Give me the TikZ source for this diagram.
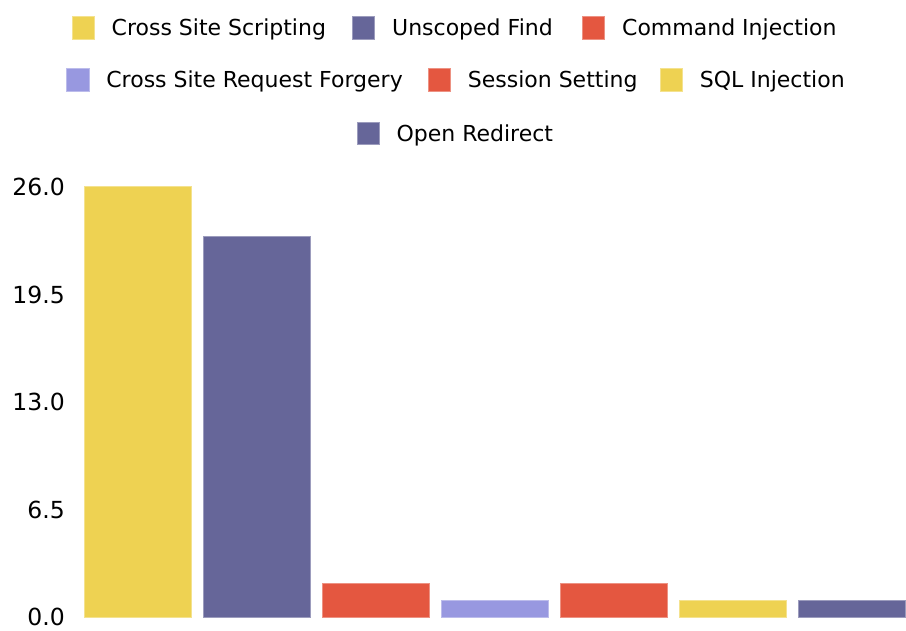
\documentclass[tikz,border=0pt]{standalone}
\usepackage{fontspec}
\setmainfont{DejaVu Sans}
\usetikzlibrary{positioning}

\definecolor{xssyellow}{RGB}{238,210,82}
\definecolor{findpurple}{RGB}{102,102,153}
\definecolor{cmdred}{RGB}{228,87,64}
\definecolor{csrflilac}{RGB}{152,152,224}

\tikzset{
  swatch/.style={draw=#1!65!white, fill=#1, line width=0.8pt,
    minimum width=22.5pt, minimum height=22.5pt, inner sep=0pt},
  legtext/.style={font=\fontsize{22}{26}\selectfont, inner sep=0pt,
    text height=16pt, text depth=0pt},
  ticklabel/.style={font=\fontsize{23.5}{28}\selectfont, inner sep=0pt, anchor=east},
  bar/.style={fill=#1, draw=#1!65!white, line width=1pt}
}

\begin{document}
\begin{tikzpicture}[x=1pt,y=-1pt]

\useasboundingbox (0,0) rectangle (906,631);

\def\Ybase{617}
\def\Xzero{84}
\def\Pitch{119}
\def\Wbar{107}
\def\Unit{16.54}

% legend, row 1
\node[swatch=xssyellow] (swXss) at (83.3,28) {};
\node[legtext, right=16.5pt of swXss] (lbXss) {Cross Site Scripting};
\node[swatch=findpurple] (swFind) at (363.3,28) {};
\node[legtext, right=17pt of swFind] (lbFind) {Unscoped Find};
\node[swatch=cmdred] (swCmd) at (593.3,28) {};
\node[legtext, right=17pt of swCmd] (lbCmd) {Command Injection};

% legend, row 2
\node[swatch=csrflilac] (swCsrf) at (78,80) {};
\node[legtext, right=16.5pt of swCsrf] (lbCsrf) {Cross Site Request Forgery};
\node[swatch=cmdred] (swSess) at (439.5,80) {};
\node[legtext, right=16.5pt of swSess] (lbSess) {Session Setting};
\node[swatch=xssyellow] (swSql) at (671.5,80) {};
\node[legtext, right=16.5pt of swSql] (lbSql) {SQL Injection};

% legend, row 3
\node[swatch=findpurple] (swRedir) at (368.2,133.5) {};
\node[legtext, right=16.5pt of swRedir] (lbRedir) {Open Redirect};

% value axis
\foreach \t [count=\k from 0] in {0.0,6.5,13.0,19.5,26.0}
  \node[ticklabel] (tick\k) at (65,{\Ybase-\k*6.5*\Unit}) {\t};

% bars
\foreach \val/\col [count=\i from 0] in
  {26/xssyellow,23/findpurple,2/cmdred,1/csrflilac,2/cmdred,1/xssyellow,1/findpurple}
  \filldraw[bar=\col] ({\Xzero+\i*\Pitch},\Ybase) rectangle ++(\Wbar,{-\val*\Unit});

\end{tikzpicture}
\end{document}
